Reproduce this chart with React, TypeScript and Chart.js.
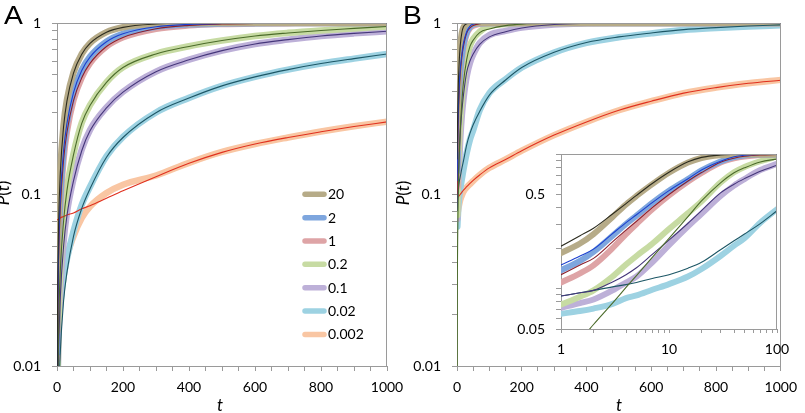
import React, { useEffect, useRef } from 'react';
import { Chart, registerables } from 'chart.js';
Chart.register(...registerables);

// ---------------- data ----------------
const seriesLabels = ['20', '2', '1', '0.2', '0.1', '0.02', '0.002'];
const obsColors = ['#b6ab88', '#7ea6de', '#dea4a6', '#c7dba3', '#bdb0d8', '#9dd2e2', '#f9c6a3'];
const fitColors = ['#2b2b1e', '#1b3fcf', '#8a1f2c', '#4b6b2a', '#45367a', '#1d5766', '#e0301e'];

// Panel A (linear t, log P)
const tA = [0, 1, 2, 5, 10, 20, 30, 50, 75, 100, 150, 200, 300, 400, 500, 600, 700, 800, 900, 1000];
const fitA_20 = [0.001, 0.014, 0.028, 0.069, 0.133, 0.249, 0.349, 0.51, 0.657, 0.76, 0.883, 0.943, 0.986, 0.997, 1, 1, 1, 1, 1, 1];
const obsA_20 = [null, 0.016, 0.031, 0.072, 0.137, 0.255, 0.355, 0.515, 0.66, 0.762, 0.884, 0.944, 0.986, 0.997, 1, 1, 1, 1, 1, 1];
const fitA_2 = [0.001, 0.01, 0.0198, 0.049, 0.095, 0.181, 0.259, 0.393, 0.528, 0.632, 0.777, 0.865, 0.95, 0.982, 0.993, 0.998, 1, 1, 1, 1];
const obsA_2 = [null, 0.012, 0.022, 0.052, 0.098, 0.185, 0.263, 0.397, 0.531, 0.635, 0.779, 0.866, 0.95, 0.982, 0.993, 0.998, 1, 1, 1, 1];
const fitA_1 = [0.001, 0.0087, 0.0172, 0.0426, 0.083, 0.16, 0.23, 0.353, 0.479, 0.581, 0.729, 0.824, 0.926, 0.969, 0.987, 0.995, 0.998, 1, 1, 1];
const obsA_1 = [null, 0.011, 0.019, 0.045, 0.086, 0.163, 0.233, 0.356, 0.482, 0.584, 0.73, 0.825, 0.926, 0.969, 0.987, 0.995, 0.998, 1, 1, 1];
const fitA_02 = [0.001, 0.0035, 0.007, 0.018, 0.036, 0.07, 0.105, 0.17, 0.26, 0.33, 0.45, 0.55, 0.66, 0.73, 0.79, 0.84, 0.875, 0.905, 0.93, 0.955];
const obsA_02 = [null, 0.006, 0.009, 0.02, 0.038, 0.073, 0.108, 0.173, 0.262, 0.332, 0.452, 0.552, 0.662, 0.732, 0.79, 0.84, 0.876, 0.905, 0.93, 0.955];
const fitA_01 = [0.001, 0.0025, 0.005, 0.0125, 0.025, 0.05, 0.075, 0.12, 0.18, 0.235, 0.32, 0.395, 0.52, 0.61, 0.69, 0.755, 0.8, 0.84, 0.87, 0.895];
const obsA_01 = [null, 0.005, 0.008, 0.015, 0.028, 0.053, 0.078, 0.123, 0.183, 0.238, 0.322, 0.397, 0.521, 0.611, 0.69, 0.755, 0.8, 0.84, 0.87, 0.895];
const fitA_002 = [0.001, 0.0012, 0.0024, 0.006, 0.012, 0.024, 0.035, 0.057, 0.083, 0.108, 0.165, 0.215, 0.3, 0.365, 0.43, 0.485, 0.535, 0.58, 0.62, 0.66];
const obsA_002 = [null, null, 0.014, 0.018, 0.023, 0.033, 0.042, 0.061, 0.087, 0.111, 0.167, 0.217, 0.301, 0.366, 0.43, 0.485, 0.535, 0.58, 0.62, 0.66];
const fitA_0002 = [0.071, 0.0712, 0.0714, 0.072, 0.073, 0.0745, 0.076, 0.078, 0.0825, 0.086, 0.095, 0.105, 0.127, 0.152, 0.176, 0.197, 0.215, 0.232, 0.249, 0.265];
const obsA_0002 = [null, null, null, 0.021, 0.024, 0.033, 0.043, 0.057, 0.073, 0.085, 0.102, 0.114, 0.129, 0.153, 0.177, 0.197, 0.215, 0.233, 0.25, 0.266];

// Panel B (linear t, log P) - the inset re-uses these for 1 <= t <= 100
const tB = [0, 1, 1.5, 2, 3, 4, 5, 7, 10, 15, 20, 30, 40, 50, 70, 100, 150, 200, 300, 400, 500, 600, 700, 800, 900, 1000];
const fitB_20 = [0.16, 0.207, 0.248, 0.282, 0.36, 0.43, 0.495, 0.607, 0.736, 0.88, 0.95, 0.99, 0.998, 1, 1, 1, 1, 1, 1, 1, 1, 1, 1, 1, 1, 1];
const obsB_20 = [null, 0.184, 0.217, 0.255, 0.342, 0.424, 0.49, 0.6, 0.73, 0.87, 0.94, 0.985, 0.997, 1, 1, 1, 1, 1, 1, 1, 1, 1, 1, 1, 1, 1];
const fitB_2 = [0.12, 0.15, 0.175, 0.197, 0.257, 0.31, 0.355, 0.437, 0.537, 0.658, 0.765, 0.889, 0.96, 0.985, 0.998, 1, 1, 1, 1, 1, 1, 1, 1, 1, 1, 1];
const obsB_2 = [null, 0.137, 0.161, 0.188, 0.248, 0.303, 0.35, 0.435, 0.535, 0.655, 0.76, 0.885, 0.955, 0.983, 0.997, 1, 1, 1, 1, 1, 1, 1, 1, 1, 1, 1];
const fitB_1 = [0.1, 0.127, 0.15, 0.168, 0.223, 0.273, 0.317, 0.401, 0.503, 0.634, 0.732, 0.874, 0.937, 0.968, 0.99, 0.999, 1, 1, 1, 1, 1, 1, 1, 1, 1, 1];
const obsB_1 = [null, 0.111, 0.13, 0.149, 0.2, 0.255, 0.303, 0.39, 0.495, 0.628, 0.728, 0.87, 0.935, 0.966, 0.99, 0.999, 1, 1, 1, 1, 1, 1, 1, 1, 1, 1];
const fitB_02 = [0.001, 0.028, 0.041, 0.054, 0.078, 0.102, 0.125, 0.171, 0.237, 0.344, 0.45, 0.614, 0.73, 0.794, 0.879, 0.923, 0.965, 0.985, 0.997, 1, 1, 1, 1, 1, 1, 1];
const obsB_02 = [null, 0.076, 0.087, 0.097, 0.123, 0.151, 0.175, 0.216, 0.278, 0.365, 0.447, 0.617, 0.736, 0.807, 0.889, 0.965, 0.985, 0.995, 1, 1, 1, 1, 1, 1, 1, 1];
const fitB_01 = [0.08, 0.088, 0.093, 0.097, 0.112, 0.127, 0.143, 0.18, 0.23, 0.307, 0.381, 0.517, 0.6, 0.66, 0.75, 0.83, 0.89, 0.935, 0.98, 0.995, 1, 1, 1, 1, 1, 1];
const obsB_01 = [null, 0.072, 0.078, 0.083, 0.097, 0.111, 0.123, 0.157, 0.211, 0.291, 0.361, 0.49, 0.585, 0.655, 0.765, 0.85, 0.9, 0.94, 0.98, 0.995, 1, 1, 1, 1, 1, 1];
const fitB_002 = [0.08, 0.088, 0.093, 0.097, 0.103, 0.107, 0.111, 0.119, 0.127, 0.142, 0.157, 0.195, 0.227, 0.255, 0.305, 0.38, 0.465, 0.55, 0.675, 0.77, 0.83, 0.875, 0.915, 0.94, 0.96, 0.975];
const obsB_002 = [null, 0.065, 0.068, 0.071, 0.077, 0.085, 0.089, 0.098, 0.108, 0.123, 0.14, 0.175, 0.209, 0.237, 0.31, 0.39, 0.47, 0.55, 0.672, 0.765, 0.825, 0.87, 0.91, 0.935, 0.955, 0.97];
const fitB_0002 = [0.095, 0.0955, 0.096, 0.0962, 0.0967, 0.097, 0.0975, 0.0985, 0.1, 0.103, 0.106, 0.111, 0.116, 0.121, 0.13, 0.143, 0.16, 0.18, 0.222, 0.265, 0.31, 0.35, 0.39, 0.42, 0.445, 0.464];
const obsB_0002 = [null, null, null, 0.078, 0.08, 0.082, 0.084, 0.088, 0.093, 0.099, 0.104, 0.11, 0.115, 0.12, 0.13, 0.143, 0.16, 0.18, 0.222, 0.265, 0.31, 0.35, 0.39, 0.42, 0.445, 0.466];

// tick labels
const yTickLabelsMain = ['0.01', '0.1', '1'];
const xTickLabelsMain = ['0', '200', '400', '600', '800', '1000'];
const yTickLabelsInset = ['0.05', '0.5'];
const xTickLabelsInset = ['1', '10', '100'];

// ---------------- helpers ----------------
const AXIS = '#9a9a9a';
const FONT = 'Lato, "Open Sans", sans-serif';

const fitsA = [fitA_20, fitA_2, fitA_1, fitA_02, fitA_01, fitA_002, fitA_0002];
const obsA = [obsA_20, obsA_2, obsA_1, obsA_02, obsA_01, obsA_002, obsA_0002];
const fitsB = [fitB_20, fitB_2, fitB_1, fitB_02, fitB_01, fitB_002, fitB_0002];
const obsB = [obsB_20, obsB_2, obsB_1, obsB_02, obsB_01, obsB_002, obsB_0002];

function logTickValues(min: number, max: number) {
  const out: number[] = [];
  for (let d = Math.floor(Math.log10(min)); d <= Math.ceil(Math.log10(max)); d++) {
    for (let m = 1; m <= 9; m++) {
      const v = parseFloat((m * Math.pow(10, d)).toPrecision(6));
      if (v >= min * (1 - 1e-9) && v <= max * (1 + 1e-9)) out.push(v);
    }
  }
  return out;
}
function linTickValues(min: number, max: number, step: number) {
  const out: number[] = [];
  for (let v = min; v <= max + 1e-9; v += step) out.push(v);
  return out;
}

function makeDatasets(t: number[], fits: (number | null)[][], obs: (number | null)[][], thickW: number, tMin: number, tMax: number, count: number) {
  const pts = (arr: (number | null)[]) =>
    t.map((x, i) => ({ x, y: arr[i] })).filter((p) => p.y !== null && p.x >= tMin && p.x <= tMax);
  const common = { pointRadius: 0, pointHoverRadius: 0, fill: false, cubicInterpolationMode: 'monotone', clip: 0, borderJoinStyle: 'round' };
  const thin = fits.slice(0, count).map((arr, i) => ({
    ...common, label: 'fit ' + seriesLabels[i], data: pts(arr), borderColor: fitColors[i], borderWidth: 1.1, order: 0,
  }));
  const thick = obs.slice(0, count).map((arr, i) => ({
    ...common, label: seriesLabels[i], data: pts(arr), borderColor: obsColors[i], borderWidth: thickW, order: 1, borderCapStyle: 'round',
  }));
  return [...thin, ...thick];
}

function mkScale(type: string, min: number, max: number, tickValues: number[], labels: string[], pad: number, size: number, isY: boolean, tickLen: number) {
  return {
    type, min, max,
    afterBuildTicks: (s: any) => { s.ticks = tickValues.map((v) => ({ value: v })); },
    afterFit: (s: any) => { if (isY) s.width = size; else s.height = size; },
    ticks: {
      autoSkip: false, maxRotation: 0, minRotation: 0, padding: pad,
      color: '#000', font: { family: FONT, size: 14 },
      callback: (v: any) => {
        const val = Number(v);
        const l = labels.find((lab) => Math.abs(Number(lab) - val) <= 1e-6 * Math.max(Number(lab), 1e-9));
        return l === undefined ? '' : l;
      },
    },
    grid: { drawOnChartArea: false, drawTicks: true, tickLength: tickLen, color: AXIS, lineWidth: 1 },
    border: { display: true, color: AXIS, width: 1 },
  };
}

const framePlugin = {
  id: 'frame',
  afterDraw(chart: any) {
    const { ctx, chartArea: a } = chart;
    ctx.save();
    ctx.strokeStyle = AXIS;
    ctx.lineWidth = 1;
    ctx.beginPath();
    ctx.moveTo(Math.round(a.left), Math.round(a.top) + 0.5);
    ctx.lineTo(Math.round(a.right) - 0.5, Math.round(a.top) + 0.5);
    ctx.lineTo(Math.round(a.right) - 0.5, Math.round(a.bottom));
    ctx.stroke();
    ctx.restore();
  },
};

const whiteAreaPlugin = {
  id: 'whiteArea',
  beforeDraw(chart: any) {
    const { ctx, chartArea: a } = chart;
    ctx.save();
    ctx.fillStyle = '#fff';
    ctx.fillRect(a.left, a.top, a.right - a.left, a.bottom - a.top);
    ctx.restore();
  },
};

const LEG_X1 = 305, LEG_X2 = 324, LEG_TX = 328, LEG_Y0 = 194.3, LEG_DY = 23.35;
const legendPlugin = {
  id: 'insideLegend',
  afterDraw(chart: any) {
    const ctx = chart.ctx;
    ctx.save();
    seriesLabels.forEach((lab, i) => {
      const y = LEG_Y0 + i * LEG_DY;
      ctx.strokeStyle = obsColors[i];
      ctx.lineWidth = 5.5;
      ctx.lineCap = 'round';
      ctx.beginPath();
      ctx.moveTo(LEG_X1, y);
      ctx.lineTo(LEG_X2, y);
      ctx.stroke();
      ctx.fillStyle = '#000';
      ctx.font = '14px ' + FONT;
      ctx.textBaseline = 'middle';
      ctx.textAlign = 'left';
      ctx.fillText(lab, LEG_TX, y + 0.5);
    });
    ctx.restore();
  },
};

function baseOptions(padding: any, scales: any) {
  return {
    responsive: false,
    animation: false,
    devicePixelRatio: 1,
    layout: { padding },
    plugins: { legend: { display: false }, tooltip: { enabled: false }, title: { display: false } },
    events: [],
    scales,
  };
}

export default function App() {
  const refA = useRef<HTMLCanvasElement>(null);
  const refB = useRef<HTMLCanvasElement>(null);
  const refI = useRef<HTMLCanvasElement>(null);

  useEffect(() => {
    const yMain = logTickValues(0.01, 1);
    const xMain = linTickValues(0, 1000, 50);
    const yIn = logTickValues(0.05, 1);
    const xIn = logTickValues(1, 100);

    const chartA = new Chart(refA.current as any, {
      type: 'line',
      data: { datasets: makeDatasets(tA, fitsA, obsA, 6.5, 0, 1000, 7) as any },
      options: baseOptions({ left: 0, top: 23, right: 33, bottom: 0 }, {
        x: mkScale('linear', 0, 1000, xMain, xTickLabelsMain, 8, 47, false, 5),
        y: mkScale('logarithmic', 0.01, 1, yMain, yTickLabelsMain, 11, 57, true, 5),
      }) as any,
      plugins: [framePlugin, legendPlugin],
    });
    const chartB = new Chart(refB.current as any, {
      type: 'line',
      data: { datasets: makeDatasets(tB, fitsB, obsB, 6.5, 0, 1000, 7) as any },
      options: baseOptions({ left: 0, top: 23, right: 18, bottom: 0 }, {
        x: mkScale('linear', 0, 1000, xMain, xTickLabelsMain, 8, 47, false, 5),
        y: mkScale('logarithmic', 0.01, 1, yMain, yTickLabelsMain, 11, 57, true, 5),
      }) as any,
      plugins: [framePlugin],
    });
    const chartI = new Chart(refI.current as any, {
      type: 'line',
      data: { datasets: makeDatasets(tB, fitsB, obsB, 6, 1, 100, 6) as any },
      options: baseOptions({ left: 0, top: 8, right: 23, bottom: 0 }, {
        x: mkScale('logarithmic', 1, 100, xIn, xTickLabelsInset, 8, 38, false, 4),
        y: mkScale('logarithmic', 0.05, 1, yIn, yTickLabelsInset, 11, 46, true, 5),
      }) as any,
      plugins: [whiteAreaPlugin, framePlugin],
    });
    return () => { chartA.destroy(); chartB.destroy(); chartI.destroy(); };
  }, []);

  const abs: React.CSSProperties = { position: 'absolute' };
  const letter: React.CSSProperties = { ...abs, font: '25px "Liberation Sans", Arial, sans-serif', lineHeight: '25px', color: '#000', transform: 'scaleX(1.13)', transformOrigin: 'left top' };
  const title: React.CSSProperties = { ...abs, fontFamily: FONT, fontSize: 17, lineHeight: '20px', height: 20, color: '#000', textAlign: 'center', whiteSpace: 'nowrap' };
  const pt = (
    <span><i>P</i>(<i>t</i>)</span>
  );

  return (
    <div style={{ position: 'absolute', left: 0, top: 0, width: 805, height: 413, background: '#fff', overflow: 'hidden' }}>
      <canvas ref={refA} width={420} height={413} style={{ ...abs, left: 0, top: 0 }} />
      <canvas ref={refB} width={405} height={413} style={{ ...abs, left: 400, top: 0 }} />
      <canvas ref={refI} width={285} height={232} style={{ ...abs, left: 515, top: 135 }} />
      <div style={{ ...letter, left: 4, top: 2.5 }}>A</div>
      <div style={{ ...letter, left: 403, top: 2.5 }}>B</div>
      <div style={{ ...title, width: 60, left: -26.6, top: 183.3, transform: 'rotate(-90deg)' }}>{pt}</div>
      <div style={{ ...title, width: 60, left: 373, top: 183.3, transform: 'rotate(-90deg)' }}>{pt}</div>
      <div style={{ ...title, width: 40, left: 200, top: 395 }}><i>t</i></div>
      <div style={{ ...title, width: 40, left: 599, top: 395 }}><i>t</i></div>
    </div>
  );
}
